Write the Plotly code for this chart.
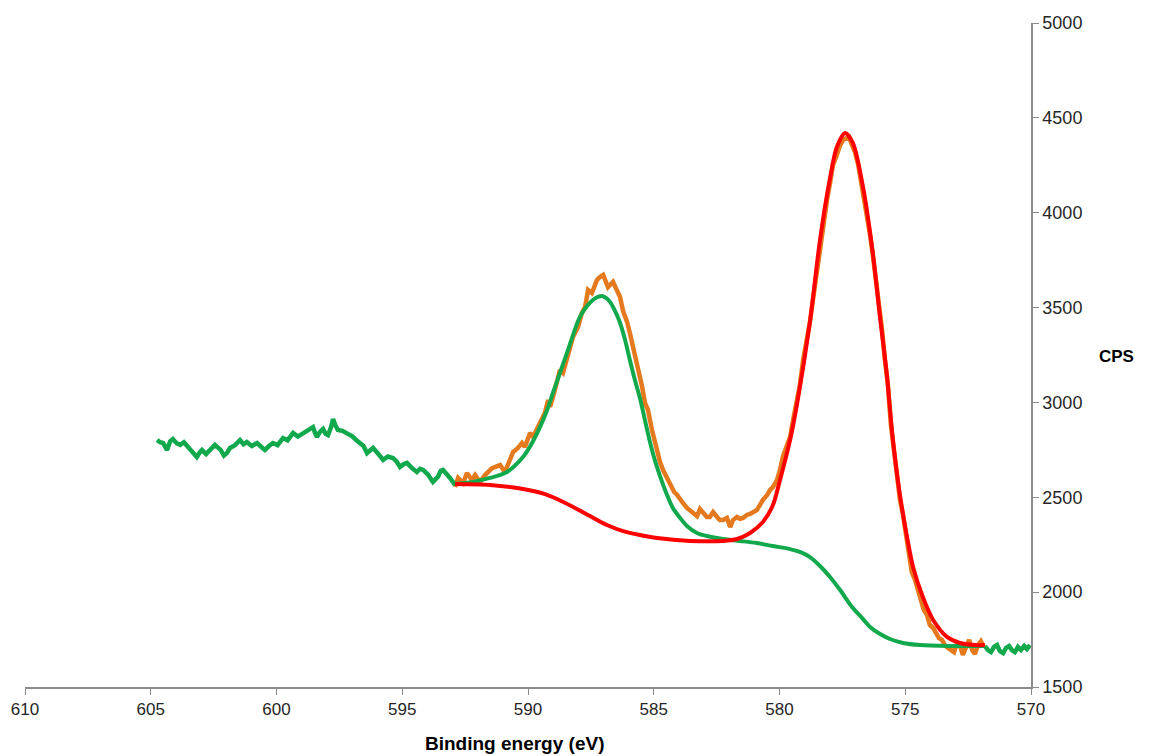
import plotly.graph_objects as go

# ---------------- data ----------------
# raw spectrum inside the fit window, drawn in orange (eV, CPS)
raw_orange_ev = [592.90, 592.78, 592.58, 592.43, 592.23, 592.10, 591.91, 591.71, 591.43, 591.11,
                 590.92, 590.59, 590.40, 590.24, 590.12, 589.92, 589.80, 589.60, 589.45, 589.33,
                 589.20, 589.12, 588.93, 588.73, 588.61, 588.45, 588.21, 588.01, 587.86, 587.73,
                 587.61, 587.46, 587.26, 587.14, 587.01, 586.82, 586.62, 586.47, 586.34, 586.22,
                 586.06, 585.95, 585.79, 585.67, 585.54, 585.46, 585.35, 585.23, 585.07, 584.87,
                 584.75, 584.63, 584.47, 584.36, 584.19, 584.07, 583.95, 583.84, 583.68, 583.56,
                 583.40, 583.28, 583.16, 583.04, 582.89, 582.77, 582.64, 582.48, 582.37, 582.25,
                 582.09, 581.96, 581.85, 581.69, 581.57, 581.45, 581.30, 581.17, 581.05, 580.90,
                 580.78, 580.66, 580.49, 580.38, 580.26, 580.10, 579.98, 579.87, 579.70, 579.58,
                 579.46, 579.31, 579.19, 579.06, 578.90, 578.79, 578.67, 578.51, 578.39, 578.27,
                 578.11, 577.99, 577.87, 577.72, 577.59, 577.47, 577.35, 577.24, 577.12, 577.00,
                 576.87, 576.76, 576.64, 576.52, 576.40, 576.29, 576.16, 576.04, 575.92, 575.81,
                 575.69, 575.57, 575.44, 575.32, 575.21, 575.09, 574.97, 574.85, 574.74, 574.61,
                 574.49, 574.37, 574.26, 574.14, 574.02, 573.89, 573.78, 573.66, 573.54, 573.42,
                 573.30, 573.18, 573.06, 572.94, 572.82, 572.71, 572.59, 572.46, 572.34, 572.23,
                 572.11, 571.99, 571.87]
raw_orange_cps = [2554, 2602, 2575, 2628, 2591, 2617, 2581, 2617, 2654, 2670,
                  2633, 2739, 2760, 2786, 2765, 2839, 2818, 2871, 2923, 2944,
                  3013, 2976, 3066, 3171, 3155, 3240, 3345, 3398, 3471, 3503,
                  3593, 3577, 3645, 3661, 3672, 3608, 3635, 3593, 3556, 3482,
                  3424, 3366, 3276, 3213, 3134, 3081, 2997, 2960, 2855, 2739,
                  2686, 2644, 2602, 2565, 2528, 2512, 2486, 2470, 2444, 2433,
                  2412, 2401, 2438, 2417, 2396, 2396, 2422, 2396, 2380, 2380,
                  2391, 2343, 2380, 2396, 2386, 2391, 2407, 2412, 2422, 2433,
                  2459, 2486, 2512, 2538, 2554, 2591, 2644, 2712, 2776, 2818,
                  2907, 3013, 3092, 3224, 3329, 3424, 3540, 3698, 3804, 3935,
                  4067, 4157, 4252, 4304, 4357, 4383, 4394, 4399, 4357, 4320,
                  4252, 4172, 4067, 3988, 3883, 3777, 3645, 3514, 3382, 3224,
                  3092, 2881, 2723, 2617, 2486, 2407, 2301, 2222, 2106, 2064,
                  2011, 1959, 1906, 1880, 1827, 1811, 1790, 1758, 1748, 1721,
                  1706, 1695, 1684, 1732, 1716, 1669, 1706, 1748, 1695, 1674,
                  1721, 1742, 1711]

# raw spectrum on the high-binding-energy side (green)
raw_left_ev = [604.75, 604.63, 604.51, 604.43, 604.35, 604.23, 604.12, 603.97, 603.83, 603.68,
               603.52, 603.34, 603.17, 603.06, 602.96, 602.80, 602.65, 602.55, 602.45, 602.22,
               602.09, 601.97, 601.85, 601.65, 601.45, 601.31, 601.18, 600.98, 600.77, 600.60,
               600.46, 600.30, 600.14, 599.96, 599.74, 599.56, 599.34, 599.15, 598.95, 598.74,
               598.55, 598.47, 598.39, 598.27, 598.15, 598.05, 597.95, 597.83, 597.75, 597.66,
               597.56, 597.38, 597.19, 596.97, 596.82, 596.68, 596.54, 596.40, 596.28, 596.16,
               595.96, 595.76, 595.57, 595.37, 595.23, 595.09, 594.94, 594.81, 594.62, 594.42,
               594.29, 594.17, 593.98, 593.78, 593.57, 593.47, 593.38, 593.24, 593.10, 592.90]
raw_left_cps = [2802, 2790, 2786, 2770, 2749, 2795, 2807, 2785, 2776, 2790,
                2765, 2740, 2712, 2735, 2749, 2728, 2749, 2770, 2776, 2750,
                2720, 2733, 2760, 2775, 2802, 2780, 2791, 2770, 2786, 2765,
                2749, 2770, 2786, 2775, 2812, 2800, 2839, 2820, 2839, 2855,
                2870, 2840, 2818, 2845, 2860, 2835, 2828, 2870, 2913, 2880,
                2855, 2850, 2839, 2820, 2800, 2786, 2770, 2733, 2750, 2760,
                2730, 2697, 2715, 2707, 2690, 2660, 2675, 2681, 2655, 2633,
                2650, 2644, 2620, 2581, 2610, 2640, 2644, 2625, 2602, 2565]

# raw spectrum tail beyond the fit window (green)
raw_right_ev = [571.83, 571.71, 571.59, 571.47, 571.35, 571.24, 571.11, 570.99, 570.87, 570.76,
                570.64, 570.52, 570.40, 570.27, 570.16, 570.04]
raw_right_cps = [1716, 1695, 1684, 1711, 1721, 1690, 1679, 1706, 1716, 1695,
                 1684, 1711, 1695, 1716, 1700, 1721]

# fitted envelope, satellite region + background step (green)
fit_green_ev = [592.99, 592.18, 591.52, 590.84, 590.20, 589.84, 589.52, 589.24, 589.01, 588.73,
                588.45, 588.21, 587.94, 587.65, 587.42, 587.22, 587.05, 586.90, 586.74, 586.54,
                586.34, 586.14, 585.95, 585.75, 585.54, 585.35, 585.15, 584.96, 584.75, 584.47,
                584.24, 583.95, 583.68, 583.28, 582.89, 582.25, 581.57, 580.90, 580.26, 579.58,
                579.19, 578.79, 578.39, 577.99, 577.59, 577.08, 576.72, 576.40, 576.00, 575.61,
                575.09, 574.41, 573.22, 571.83]
fit_green_cps = [2570, 2581, 2602, 2633, 2712, 2786, 2871, 2960, 3050, 3155,
                 3261, 3355, 3450, 3508, 3540, 3556, 3561, 3551, 3530, 3482,
                 3419, 3329, 3224, 3118, 3018, 2907, 2791, 2697, 2612, 2512,
                 2444, 2391, 2349, 2312, 2296, 2280, 2270, 2259, 2243, 2227,
                 2212, 2185, 2138, 2080, 2011, 1916, 1864, 1816, 1779, 1753,
                 1732, 1721, 1716, 1716]

# fitted envelope, main peak + background (red)
fit_red_ev = [592.90, 591.51, 590.20, 589.32, 588.85, 588.13, 587.53, 586.86, 586.22, 585.55,
              584.87, 583.56, 582.25, 581.69,
              581.17, 580.66, 580.26, 579.98, 579.58, 579.31, 578.79, 578.39, 577.99, 577.72,
              577.39, 577.08, 576.68, 576.29, 576.00, 575.73, 575.49, 575.21, 574.93, 574.69,
              574.30, 573.89, 573.34, 572.82, 572.23, 571.83]
fit_red_cps = [2570, 2565, 2544, 2517, 2491, 2444, 2401, 2354, 2322, 2301,
               2285, 2270, 2270, 2280,
               2312, 2370, 2459, 2591, 2802, 2986, 3424, 3856, 4183, 4346,
               4420, 4367, 4136, 3788, 3445, 3145, 2802, 2512, 2291, 2133,
               1974, 1853, 1764, 1732, 1721, 1721]

x_ticks = [610, 605, 600, 595, 590, 585, 580, 575, 570]
y_ticks = [1500, 2000, 2500, 3000, 3500, 4000, 4500, 5000]

ORANGE = "#E5791E"
GREEN = "#12A84C"
RED = "#FF0000"
AXIS = "#8C8C8C"
FONT = "Liberation Sans, Arial, sans-serif"
LW_RAW = 4.5
LW_FIT = 4

fig = go.Figure()
fig.add_trace(go.Scatter(x=raw_orange_ev, y=raw_orange_cps, mode="lines",
                         line=dict(color=ORANGE, width=LW_RAW), showlegend=False))
fig.add_trace(go.Scatter(x=raw_left_ev, y=raw_left_cps, mode="lines",
                         line=dict(color=GREEN, width=LW_RAW), showlegend=False))
fig.add_trace(go.Scatter(x=raw_right_ev, y=raw_right_cps, mode="lines",
                         line=dict(color=GREEN, width=LW_RAW), showlegend=False))
fig.add_trace(go.Scatter(x=fit_green_ev, y=fit_green_cps, mode="lines",
                         line=dict(color=GREEN, width=LW_FIT, shape="spline", smoothing=1.0),
                         showlegend=False))
fig.add_trace(go.Scatter(x=fit_red_ev, y=fit_red_cps, mode="lines",
                         line=dict(color=RED, width=LW_FIT, shape="spline", smoothing=0.8),
                         showlegend=False))

fig.update_layout(
    width=1150, height=756,
    margin=dict(l=25, r=119, t=23, b=69, pad=0),
    paper_bgcolor="white", plot_bgcolor="white",
    font=dict(family=FONT, color="#262626"),
    xaxis=dict(range=[610, 570], tickvals=x_ticks, ticktext=[str(v) for v in x_ticks],
               showgrid=False, zeroline=False, showline=True, linecolor=AXIS, linewidth=1.5,
               ticks="outside", ticklen=6, tickcolor=AXIS, tickwidth=1,
               tickfont=dict(size=17, family=FONT, color="#262626")),
    yaxis=dict(range=[1500, 5000], tickvals=y_ticks, side="right",
               showgrid=False, zeroline=False, showline=True, linecolor=AXIS, linewidth=1.5,
               ticks="outside", ticklen=6, tickcolor=AXIS, tickwidth=1,
               tickfont=dict(size=18, family=FONT, color="#262626")),
    annotations=[
        dict(text="<b>Binding energy (eV)</b>", xref="paper", yref="paper",
             x=0.487, y=0, yshift=-56, xanchor="center", yanchor="middle",
             showarrow=False, font=dict(size=19, family=FONT, color="#000000")),
        dict(text="<b>CPS</b>", xref="paper", yref="paper",
             x=1.0845, y=0.497, xanchor="center", yanchor="middle",
             showarrow=False, font=dict(size=17, family=FONT, color="#000000")),
    ],
)

fig.write_html("out.html")
